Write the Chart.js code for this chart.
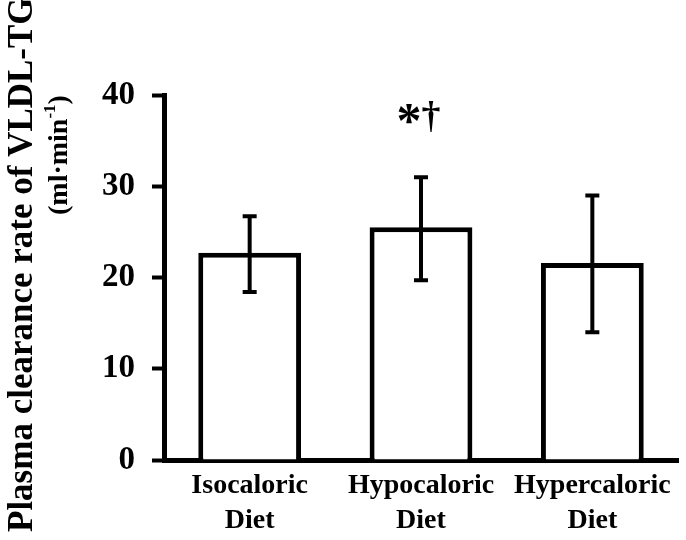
<!DOCTYPE html>
<html lang="en">
<head>
  <meta charset="UTF-8" />
  <title>Plasma clearance rate of VLDL-TG</title>
  <style>
    html, body { margin: 0; padding: 0; background: white; }
    #wrap { width: 686px; height: 540px; position: relative; }
  </style>
</head>
<body>
  <div id="wrap"><canvas id="barChart"></canvas></div>

  <script src="https://cdn.jsdelivr.net/npm/chart.js"></script>
  <script>
    const categories = [['Isocaloric', 'Diet'], ['Hypocaloric', 'Diet'], ['Hypercaloric', 'Diet']];
    const means = [22.7, 25.5, 21.6];
    const errUpper = [26.7, 31.0, 29.0];
    const errLower = [18.4, 19.7, 14.0];
    const marks = ['', '*†', ''];
    const yTicks = [0, 10, 20, 30, 40];

    const serif = '"Liberation Serif", "Times New Roman", serif';

    // error bars drawn on top of the bars
    const errorBars = {
      id: 'errorBars',
      afterDatasetsDraw(chart) {
        const ctx = chart.ctx;
        const y = chart.scales.y;
        const meta = chart.getDatasetMeta(0);
        ctx.save();
        ctx.strokeStyle = '#000';
        ctx.lineWidth = 4;
        meta.data.forEach((bar, i) => {
          const top = y.getPixelForValue(errUpper[i]);
          const bot = y.getPixelForValue(errLower[i]);
          ctx.beginPath();
          ctx.moveTo(bar.x, top);
          ctx.lineTo(bar.x, bot);
          ctx.moveTo(bar.x - 7, top);
          ctx.lineTo(bar.x + 7, top);
          ctx.moveTo(bar.x - 7, bot);
          ctx.lineTo(bar.x + 7, bot);
          ctx.stroke();
        });
        // significance marks
        ctx.fillStyle = '#000';
        ctx.textAlign = 'center';
        meta.data.forEach((bar, i) => {
          if (!marks[i]) return;
          const top = y.getPixelForValue(errUpper[i]);
          ctx.font = 'bold 50px ' + serif;
          ctx.fillText(marks[i][0], bar.x - 12, top - 40);
          ctx.font = 'bold 38px ' + serif;
          ctx.fillText(marks[i][1], bar.x + 10, top - 49);
        });
        ctx.restore();
      }
    };

    // two-line rotated y title
    const yTitle = {
      id: 'yTitle',
      afterDraw(chart) {
        const ctx = chart.ctx;
        ctx.save();
        ctx.fillStyle = '#000';
        ctx.textBaseline = 'alphabetic';
        ctx.rotate(-Math.PI / 2);
        ctx.font = 'bold 35px ' + serif;
        ctx.textAlign = 'left';
        ctx.fillText('Plasma clearance rate of VLDL-TG', -532, 32);
        // second line with superscript
        const x0 = -215, base = 67;
        ctx.font = 'bold 28px ' + serif;
        let w = 0;
        const p1 = '(ml\u00B7min';
        ctx.fillText(p1, x0, base);
        w += ctx.measureText(p1).width;
        ctx.font = 'bold 17px ' + serif;
        ctx.fillText('-1', x0 + w, base - 12);
        w += ctx.measureText('-1').width;
        ctx.font = 'bold 28px ' + serif;
        ctx.fillText(')', x0 + w, base);
        ctx.restore();
      }
    };

    new Chart(document.getElementById('barChart'), {
      type: 'bar',
      data: {
        labels: categories,
        datasets: [{
          data: means,
          backgroundColor: '#fff',
          borderColor: '#000',
          borderWidth: 5,
          borderSkipped: 'start',
          categoryPercentage: 1,
          barPercentage: 0.6
        }]
      },
      options: {
        responsive: true,
        maintainAspectRatio: false,
        animation: false,
        layout: { padding: { top: 95, right: 8, left: 0, bottom: 0 } },
        plugins: {
          legend: { display: false },
          tooltip: { enabled: false }
        },
        scales: {
          x: {
            afterFit(scale) { scale.height = 80; },
            grid: { display: false, drawTicks: false },
            border: { display: true, color: '#000', width: 5 },
            ticks: {
              color: '#000',
              padding: 8,
              font: { family: serif, size: 28, weight: 'bold', lineHeight: 1.25 }
            }
          },
          y: {
            min: 0,
            max: 40,
            afterFit(scale) { scale.width = 164; },
            afterBuildTicks(scale) { scale.ticks = yTicks.map(v => ({ value: v })); },
            grid: { drawOnChartArea: false, drawTicks: true, tickLength: 12, tickWidth: 4, color: '#000' },
            border: { display: true, color: '#000', width: 5 },
            ticks: {
              color: '#000',
              padding: 17,
              font: { family: serif, size: 33, weight: 'bold' }
            }
          }
        }
      },
      plugins: [errorBars, yTitle]
    });
  </script>
</body>
</html>
